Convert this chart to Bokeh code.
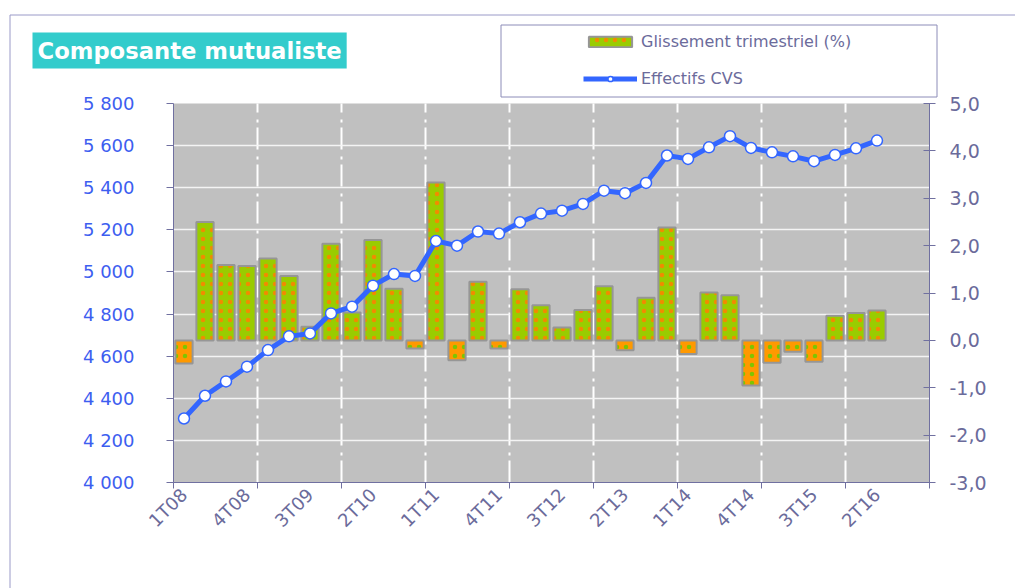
import math
from bokeh.plotting import figure
from bokeh.models import (Range1d, LinearAxis, FixedTicker, ColumnDataSource, CDSView,
                          BooleanFilter, Legend, LegendItem, Label, BoxAnnotation)
from bokeh.embed import file_html
from bokeh.resources import INLINE

quarters = ["1T08", "2T08", "3T08", "4T08", "1T09", "2T09", "3T09", "4T09",
            "1T10", "2T10", "3T10", "4T10", "1T11", "2T11", "3T11", "4T11",
            "1T12", "2T12", "3T12", "4T12", "1T13", "2T13", "3T13", "4T13",
            "1T14", "2T14", "3T14", "4T14", "1T15", "2T15", "3T15", "4T15",
            "1T16", "2T16"]
glissement = [-0.49, 2.50, 1.59, 1.57, 1.73, 1.36, 0.29, 2.04, 0.59, 2.12,
              1.09, -0.17, 3.33, -0.42, 1.24, -0.17, 1.08, 0.74, 0.27, 0.64,
              1.14, -0.21, 0.90, 2.38, -0.29, 1.01, 0.95, -0.95, -0.47, -0.24,
              -0.45, 0.52, 0.58, 0.63]
effectifs = [4304, 4412, 4480, 4550, 4629, 4694, 4708, 4803, 4835, 4935,
             4990, 4981, 5147, 5125, 5192, 5182, 5236, 5277, 5291, 5323,
             5386, 5374, 5423, 5553, 5537, 5592, 5645, 5589, 5568, 5549,
             5526, 5556, 5587, 5624]
left_ticks = [4000, 4200, 4400, 4600, 4800, 5000, 5200, 5400, 5600, 5800]
right_ticks = [-3, -2, -1, 0, 1, 2, 3, 4, 5]
n_slots = 36          # the category axis runs to 4T16
label_every = 3
mark_every = 4

# ---- layout (page pixels) ----
W, H = 1015, 588
PL, PR, PT, PB = 173, 929, 103, 482     # grey plot area
AXIS = "#7070a0"
TXT = "#6b6b9b"
FONT = "DejaVu Sans"

ppx = (PR - PL) / n_slots
ppy = (PB - PT) / (left_ticks[-1] - left_ticks[0])
ppr = (PB - PT) / (right_ticks[-1] - right_ticks[0])

x = [i + 0.5 for i in range(len(quarters))]

p = figure(width=W, height=H,
           x_range=Range1d(-PL / ppx, (W - PL) / ppx),
           y_range=Range1d(left_ticks[0] - (H - PB) / ppy, left_ticks[-1] + PT / ppy),
           output_backend="svg", toolbar_location=None,
           min_border=0, min_border_left=0, min_border_right=0, min_border_top=0,
           min_border_bottom=0, background_fill_color="white",
           border_fill_color="white", outline_line_color=None)
p.extra_y_ranges = {"pct": Range1d(right_ticks[0] - (H - PB) / ppr,
                                   right_ticks[-1] + PT / ppr)}

# grey plot area
p.add_layout(BoxAnnotation(left=0, right=n_slots, bottom=left_ticks[0], top=left_ticks[-1],
                           fill_color="#c0c0c0", fill_alpha=1, line_color=None,
                           level="image"))

# grids
xg = p.xgrid[0]
xg.ticker = FixedTicker(ticks=list(range(mark_every, n_slots, mark_every)))
xg.bounds = (0, n_slots)
xg.cross_bounds = (left_ticks[0], left_ticks[-1])
xg.grid_line_color = "white"
xg.grid_line_width = 2
xg.grid_line_dash = "22 5 3 7"
yg = p.ygrid[0]
yg.ticker = FixedTicker(ticks=left_ticks[1:-1])
yg.bounds = (left_ticks[0], left_ticks[-1])
yg.cross_bounds = (0, n_slots)
yg.grid_line_color = "#f4f4f4"
yg.grid_line_width = 1.5

# bars
src = ColumnDataSource(dict(x=x, v=glissement))
pos_view = CDSView(filter=BooleanFilter([v >= 0 for v in glissement]))
neg_view = CDSView(filter=BooleanFilter([v < 0 for v in glissement]))
pos = p.vbar(x="x", top="v", bottom=0, width=0.82, source=src, view=pos_view,
             y_range_name="pct", fill_color="#99cc00", line_color="#969696",
             line_width=2, hatch_pattern="dot", hatch_color="#ff8000",
             hatch_scale=9, hatch_weight=0.4, hatch_alpha=0.85)
neg = p.vbar(x="x", top="v", bottom=0, width=0.82, source=src, view=neg_view,
             y_range_name="pct", fill_color="#ff9900", line_color="#969696",
             line_width=2, hatch_pattern="dot", hatch_color="#66cc00",
             hatch_scale=9, hatch_weight=0.4, hatch_alpha=0.85)

# line
lsrc = ColumnDataSource(dict(x=x, y=effectifs))
ln = p.line("x", "y", source=lsrc, line_color="#3366ff", line_width=5)
mk = p.scatter("x", "y", source=lsrc, marker="circle", size=11,
               fill_color="white", line_color="#3366ff", line_width=1.5)

# axes
xa = p.xaxis[0]
xa.fixed_location = left_ticks[0]
xa.bounds = (0, n_slots)
xa.ticker = FixedTicker(ticks=[x[i] for i in range(0, len(quarters), label_every)],
                        minor_ticks=list(range(0, n_slots + 1, mark_every)))
xa.major_label_overrides = {x[i]: quarters[i] for i in range(0, len(quarters), label_every)}
xa.major_tick_in = 0
xa.major_tick_out = 0
xa.minor_tick_in = 0
xa.minor_tick_out = 6
xa.minor_tick_line_color = AXIS
xa.axis_line_color = AXIS
xa.major_label_orientation = math.pi / 4
xa.major_label_text_font = FONT
xa.major_label_text_font_size = "18px"
xa.major_label_text_color = TXT
xa.major_label_standoff = 3

ya = p.yaxis[0]
ya.fixed_location = 0
ya.bounds = (left_ticks[0], left_ticks[-1])
ya.ticker = FixedTicker(ticks=left_ticks, minor_ticks=[])
ya.major_label_overrides = {t: f"{t:,}".replace(",", " ") for t in left_ticks}
ya.major_tick_in = 0
ya.major_tick_out = 7
ya.major_tick_line_color = AXIS
ya.axis_line_color = AXIS
ya.major_label_text_font = FONT
ya.major_label_text_font_size = "18px"
ya.major_label_text_color = "#3d5ef0"
ya.major_label_standoff = 32

ra = LinearAxis(y_range_name="pct", fixed_location=n_slots,
                bounds=(right_ticks[0], right_ticks[-1]),
                ticker=FixedTicker(ticks=right_ticks, minor_ticks=[]),
                major_label_overrides={t: f"{t:.1f}".replace(".", ",") for t in right_ticks},
                major_tick_in=6, major_tick_out=6, major_tick_line_color=AXIS,
                axis_line_color=AXIS, major_label_text_font=FONT,
                major_label_text_font_size="19px", major_label_text_color=TXT,
                major_label_standoff=14)
p.add_layout(ra, "right")

# outer chart border and legend frame (screen units: from bottom-left of canvas)
p.add_layout(BoxAnnotation(left=9.5, right=W + 50, top=H - 14.5, bottom=-50,
                           left_units="screen", right_units="screen",
                           top_units="screen", bottom_units="screen",
                           fill_color=None, line_color="#9a9ac8", line_width=1,
                           line_alpha=1))
p.add_layout(BoxAnnotation(left=500.5, right=936.5, top=H - 24.5, bottom=H - 96.5,
                           left_units="screen", right_units="screen",
                           top_units="screen", bottom_units="screen",
                           fill_color=None, line_color="#8c8cb8", line_width=1,
                           line_alpha=1))

legend = Legend(items=[LegendItem(label="Glissement trimestriel (%)", renderers=[pos]),
                       LegendItem(label="Effectifs CVS", renderers=[ln, mk])],
                location=(583, H - 88), orientation="vertical", border_line_color=None,
                background_fill_alpha=0, padding=0, spacing=17, glyph_width=54,
                glyph_height=13, label_height=20, label_text_font=FONT,
                label_text_font_size="16px", label_text_color=TXT,
                label_standoff=4, margin=0)
p.add_layout(legend)

p.add_layout(Label(x=32, y=H - 50, x_units="screen", y_units="screen",
                   text="Composante mutualiste", text_font=FONT,
                   text_font_style="bold", text_font_size="22.7px", text_color="white",
                   text_align="left", text_baseline="middle",
                   background_fill_color="#33cccc", padding=5))

open("out.html", "w").write(file_html(p, INLINE))
